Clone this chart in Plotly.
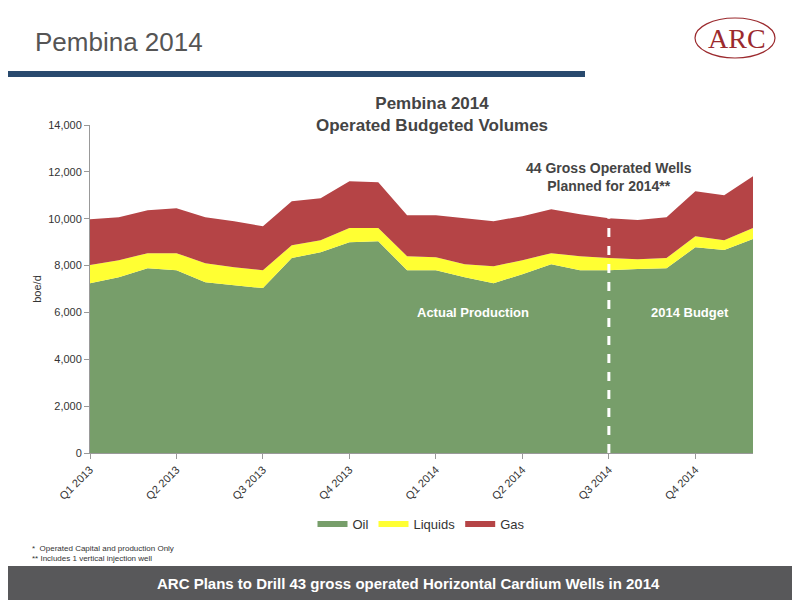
import plotly.graph_objects as go

months = list(range(24))
tick_pos = [0, 3, 6, 9, 12, 15, 18, 21]
tick_text = ["Q1 2013", "Q2 2013", "Q3 2013", "Q4 2013",
             "Q1 2014", "Q2 2014", "Q3 2014", "Q4 2014"]

oil = [7250, 7500, 7890, 7800, 7290, 7160, 7040, 8320, 8570, 9000, 9040, 7800,
       7800, 7500, 7250, 7630, 8060, 7800, 7800, 7850, 7890, 8780, 8660, 9130]
liquids = [770, 730, 640, 730, 810, 770, 760, 550, 510, 600, 560, 600,
           560, 560, 720, 600, 470, 600, 520, 420, 430, 470, 420, 470]
gas = [1960, 1830, 1830, 1920, 1960, 1960, 1880, 1880, 1790, 2000, 1960, 1750,
       1790, 1960, 1920, 1880, 1870, 1790, 1700, 1670, 1740, 1920, 1920, 2210]

# page draws the figure 8px in from the corner, so work in shifted pixels
OFF = 8
W, H = 800 - OFF, 600 - OFF
L, T = 90 - OFF, 125 - OFF
R, B = 800 - 753, 600 - 453
PW, PH = W - L - R, H - T - B


def xp(pix):
    return (pix - OFF - L) / PW


def yp(pix):
    return (H - B - (pix - OFF)) / PH


fig = go.Figure()
for name, vals, col in [("Oil", oil, "#779e6a"), ("Liquids", liquids, "#ffff33"),
                        ("Gas", gas, "#b54446")]:
    fig.add_trace(go.Scatter(x=months, y=vals, name=name, stackgroup="one",
                             mode="none", fillcolor=col))

# dashed divider between actual and budget
fig.add_shape(type="line", x0=18, x1=18, y0=0, y1=10020,
              line=dict(color="white", width=3, dash="dash"), layer="above")

fig.add_shape(type="line", xref="paper", yref="paper", x0=xp(0), x1=xp(585),
              y0=yp(74), y1=yp(74), line=dict(color="#294a6e", width=6))
fig.add_shape(type="circle", xref="paper", yref="paper", x0=xp(695), x1=xp(775),
              y0=yp(58), y1=yp(18), line=dict(color="#9b2a2e", width=1.2))
fig.add_shape(type="rect", xref="paper", yref="paper", x0=xp(0), x1=xp(810),
              y0=yp(610), y1=yp(566), fillcolor="#58585a", line_width=0,
              layer="below")


def slide_text(text, x, y, size, color, xanchor="center", **kw):
    return dict(text=text, x=xp(x), y=yp(y), xref="paper", yref="paper",
                showarrow=False, xanchor=xanchor, yanchor="middle",
                font=dict(size=size, color=color, **kw))


fig.update_layout(
    width=W, height=H, paper_bgcolor="white", plot_bgcolor="white",
    margin=dict(l=L, r=R, t=T, b=B, autoexpand=False),
    font=dict(family="Liberation Sans, Arial", size=11, color="#333"),
    showlegend=True,
    legend=dict(orientation="h", x=0.5, xanchor="center", y=yp(509), yanchor="top",
                traceorder="normal", font=dict(size=13)),
    xaxis=dict(range=[0, 23], tickvals=tick_pos, ticktext=tick_text, tickangle=-45,
               showgrid=False, showline=True, linecolor="#999", ticks="outside",
               tickcolor="#999", zeroline=False),
    yaxis=dict(range=[0, 14000], dtick=2000, tickformat=",", showgrid=False,
               showline=True, linecolor="#999", ticks="outside", tickcolor="#999",
               title=dict(text="boe/d", font=dict(size=11), standoff=4)),
    annotations=[
        slide_text("<b>Pembina 2014<br>Operated Budgeted Volumes</b>", 432, 114, 17, "#444"),
        dict(text="<b>44 Gross Operated Wells<br>Planned for 2014**</b>", x=18, y=12600,
             showarrow=False, yanchor="top", font=dict(size=14, color="#444")),
        dict(text="<b>Actual Production</b>", x=13.3, y=6000, showarrow=False,
             font=dict(size=13, color="white")),
        dict(text="<b>2014 Budget</b>", x=20.8, y=6000, showarrow=False,
             font=dict(size=13, color="white")),
        slide_text("Pembina 2014", 33, 42, 26, "#555", xanchor="left"),
        dict(text="*  Operated Capital and production Only<br>** Includes 1 vertical injection well",
             x=xp(30), y=yp(553), xref="paper", yref="paper", showarrow=False,
             xanchor="left", yanchor="middle", align="left",
             font=dict(size=8, color="#333")),
        slide_text("<b>ARC Plans to Drill 43 gross operated Horizontal Cardium Wells in 2014</b>",
                   408, 583, 15, "white"),
        slide_text("ARC", 737, 38, 28, "#9b2a2e", family="Liberation Serif"),
    ],
)

fig.write_html("out.html")
